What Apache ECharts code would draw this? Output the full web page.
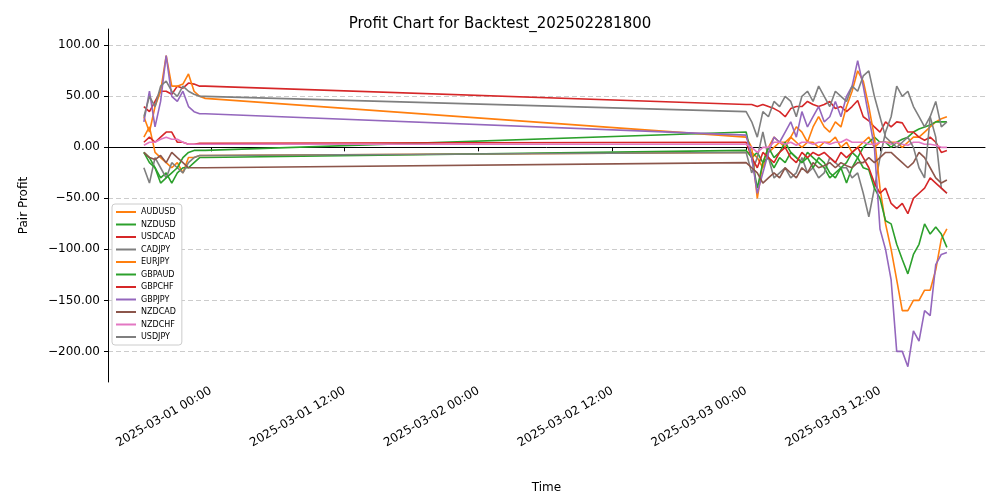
<!DOCTYPE html>
<html><head><meta charset="utf-8">
<script src="https://cdn.jsdelivr.net/npm/echarts@6/dist/echarts.min.js"></script>
<style>html,body{margin:0;background:#fff}#chart{width:1000px;height:500px}</style>
</head><body><div id="chart"></div>
<script>
// times: Feb 28 18:00-23:30 (30 min), then Mar 3 00:00-18:00 (30 min)
var seg1Start = '2025-02-28T18:00:00', seg1Len = 12;
var seg2Start = '2025-03-03T00:00:00', seg2Len = 37;
var times = [];
for (var i = 0; i < seg1Len; i++) times.push(new Date(seg1Start).getTime() + i * 1800000);
for (var i = 0; i < seg2Len; i++) times.push(new Date(seg2Start).getTime() + i * 1800000);

var names = ['AUDUSD', 'NZDUSD', 'USDCAD', 'CADJPY', 'EURJPY', 'GBPAUD', 'GBPCHF', 'GBPJPY', 'NZDCAD', 'NZDCHF', 'USDJPY'];
var colors = ['#ff7f0e', '#2ca02c', '#d62728', '#7f7f7f', '#ff7f0e', '#2ca02c', '#d62728', '#9467bd', '#8c564b', '#e377c2', '#7f7f7f'];

var AUDUSD = [10,20,-5,-10,-15,-20,-15,-25,-10,-10,-8,-8,
  -5,-5,-10,-20,-5,0,5,5,10,5,0,5,5,0,5,5,10,0,5,-5,0,5,10,0,5,5,5,5,0,5,10,10,15,20,25,28,30];
var NZDUSD = [-5,-10,-20,-30,-25,-35,-25,-20,-20,-15,-10,-10,
  -3,-10,-5,-15,-10,-20,-10,-15,-5,-10,-15,-5,-10,-15,-20,-30,-25,-20,-35,-20,-10,0,5,10,5,5,0,5,8,10,15,18,20,22,25,25,25];
var USDCAD = [40,35,45,55,55,52,60,58,63,62,60,60,
  42,42,40,42,40,38,35,30,38,40,40,45,42,40,42,45,38,40,35,40,46,30,26,20,15,25,20,25,24,15,15,10,7,10,5,-5,-3];
var CADJPY = [-20,-35,-10,-20,-30,-15,-20,-25,-15,-10,-8,-8,
  -5,-25,-10,15,-10,-30,-25,-20,-30,-25,-10,-25,-20,-30,-25,-10,-15,-20,-20,-30,-25,-45,-68,-40,-10,15,30,60,50,55,40,30,20,30,10,-40,-45];
var EURJPY = [30,15,40,55,90,60,60,62,72,55,50,48,
  10,0,-50,-15,0,10,5,0,10,20,15,5,20,30,20,15,25,20,40,55,75,65,40,10,-40,-75,-100,-130,-160,-160,-150,-150,-140,-140,-120,-90,-80];
var GBPAUD = [-5,-15,-20,-35,-30,-25,-20,-10,-5,-3,-3,-3,
  15,-10,-40,-15,0,-10,-5,5,-5,-10,-15,-10,-20,-10,-15,-25,-30,-20,-15,-5,-10,-20,-22,-40,-50,-72,-75,-95,-110,-124,-105,-95,-75,-85,-78,-85,-98];
var GBPCHF = [5,10,5,10,15,15,5,5,3,3,4,4,
  5,-10,-20,-5,-10,-15,-5,0,-10,-15,-5,-10,-5,-8,-5,-10,-15,-5,-10,-5,0,-10,-20,-35,-45,-40,-55,-60,-55,-65,-50,-45,-40,-30,-35,-40,-45];
var GBPJPY = [25,55,20,45,90,50,45,55,40,35,33,33,
  12,-10,-45,-25,-5,10,5,15,25,10,35,20,30,40,25,30,45,30,50,60,85,60,30,0,-80,-100,-130,-200,-200,-215,-180,-190,-160,-165,-115,-105,-103];
var NZDCAD = [-5,-10,-12,-8,-15,-5,-10,-15,-20,-20,-20,-20,
  -15,-20,-25,-35,-30,-25,-30,-20,-25,-30,-20,-25,-15,-20,-18,-15,-20,-15,-18,-20,-15,-15,-10,-15,-10,-5,-5,-10,-15,-20,-15,-5,-10,-20,-30,-35,-32];
var NZDCHF = [2,5,5,8,10,8,8,5,3,3,3,3,
  3,0,-5,0,0,5,5,3,5,2,5,5,3,5,5,3,5,5,8,5,5,5,3,3,5,5,3,5,3,2,5,5,3,3,2,0,0];
var USDJPY = [30,50,40,60,65,55,50,60,55,52,50,50,
  35,25,10,35,30,45,40,50,45,30,50,55,45,60,50,40,55,50,45,60,55,70,75,50,30,10,5,0,5,10,0,-20,-30,30,45,20,25];
var values = [AUDUSD, NZDUSD, USDCAD, CADJPY, EURJPY, GBPAUD, GBPCHF, GBPJPY, NZDCAD, NZDCHF, USDJPY];

var xTicks = ['2025-03-01T00:00:00', '2025-03-01T12:00:00', '2025-03-02T00:00:00',
  '2025-03-02T12:00:00', '2025-03-03T00:00:00', '2025-03-03T12:00:00'].map(function (s) { return new Date(s).getTime(); });
var yTicks = [-200, -150, -100, -50, 0, 50, 100];

function pad(n) { return n < 10 ? '0' + n : '' + n; }

var chart = echarts.init(document.getElementById('chart'));
var series = names.map(function (n, k) {
  return {
    name: n, type: 'line', showSymbol: false, symbol: 'none',
    lineStyle: { width: 1.6, color: colors[k] }, itemStyle: { color: colors[k] },
    data: values[k].map(function (v, i) { return [times[i], v]; })
  };
});
chart.setOption({
  animation: false,
  title: { text: 'Profit Chart for Backtest_202502281800', left: 'center', top: 12,
    textStyle: { fontFamily: 'DejaVu Sans', fontSize: 15, fontWeight: 'normal', color: '#000' } },
  grid: { left: 108, right: 15, top: 29, bottom: 118 },
  legend: {
    orient: 'vertical', left: 112, top: 204, itemGap: 4.5, itemWidth: 20, itemHeight: 2,
    icon: 'rect', backgroundColor: '#fff', borderColor: '#ccc', borderWidth: 1, borderRadius: 3,
    padding: [4, 6, 4, 4],
    textStyle: { fontFamily: 'DejaVu Sans', fontSize: 8, color: '#000' }, data: names
  },
  xAxis: {
    type: 'value', name: 'Time', nameLocation: 'middle', nameGap: 100,
    nameTextStyle: { fontFamily: 'DejaVu Sans', fontSize: 12, color: '#000' },
    min: new Date('2025-02-28T14:47:00').getTime(), max: new Date('2025-03-03T21:25:00').getTime(),
    axisLine: { lineStyle: { color: '#000' } },
    axisTick: { customValues: xTicks, length: 4, lineStyle: { color: '#000' } },
    splitLine: { show: false },
    axisLabel: {
      customValues: xTicks, rotate: 30, color: '#000', fontFamily: 'DejaVu Sans', fontSize: 12, margin: 8,
      formatter: function (v) {
        var d = new Date(v);
        return d.getFullYear() + '-' + pad(d.getMonth() + 1) + '-' + pad(d.getDate()) + ' ' + pad(d.getHours()) + ':' + pad(d.getMinutes());
      }
    }
  },
  yAxis: {
    type: 'value', name: 'Pair Profit', nameLocation: 'middle', nameGap: 78,
    nameTextStyle: { fontFamily: 'DejaVu Sans', fontSize: 12, color: '#000' },
    min: -230, max: 116,
    axisLine: { show: true, lineStyle: { color: '#000' } },
    axisTick: { show: true, customValues: yTicks, length: 4, lineStyle: { color: '#000' } },
    splitLine: { show: true, lineStyle: { color: '#ccc', type: [5, 3] } },
    axisLabel: {
      customValues: yTicks, color: '#000', fontFamily: 'DejaVu Sans', fontSize: 12,
      formatter: function (v) { return (v < 0 ? '\u2212' : '') + Math.abs(v).toFixed(2); }
    }
  },
  series: series
});
</script></body></html>
